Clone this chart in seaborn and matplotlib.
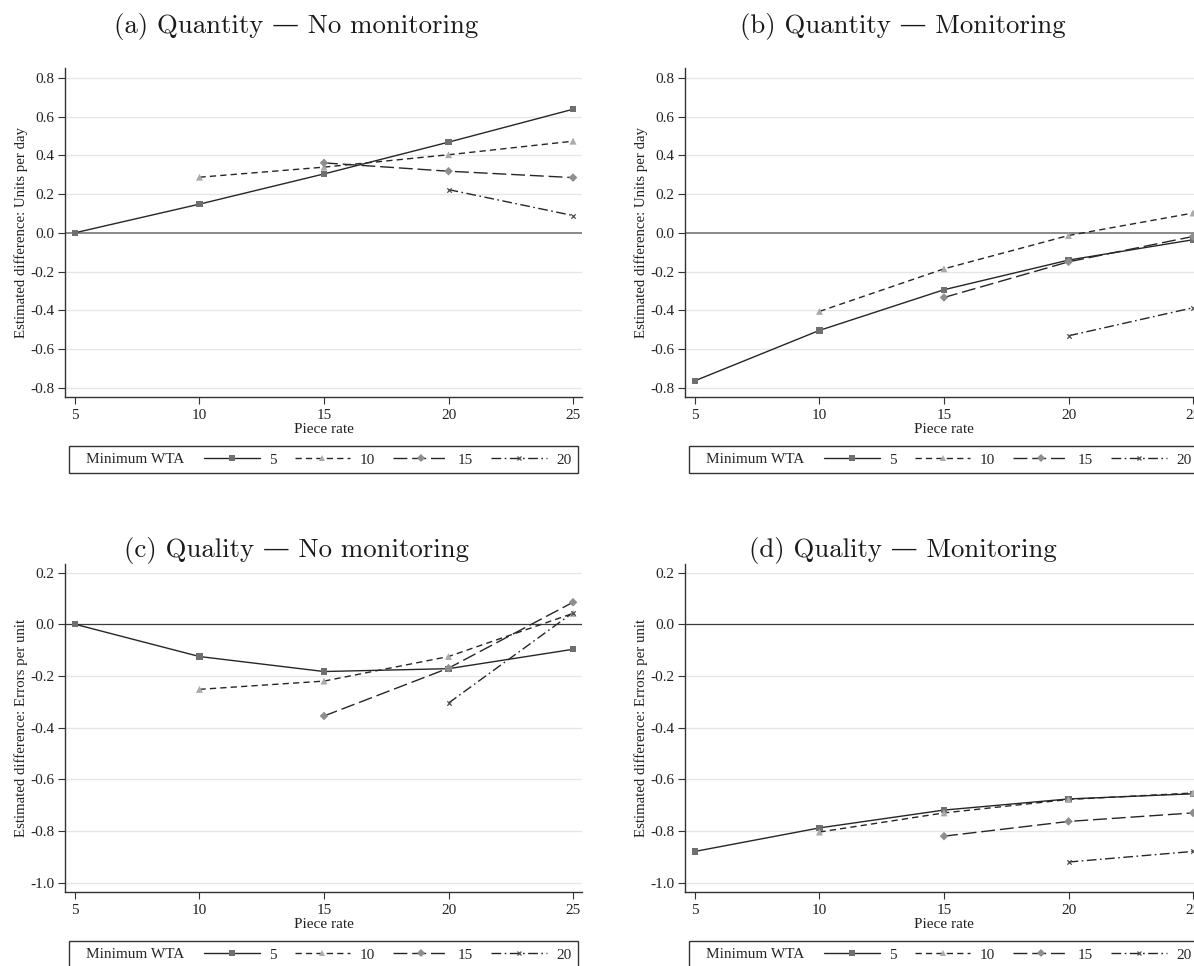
import numpy as np
import pandas as pd
import matplotlib
matplotlib.use("Agg")
import matplotlib.pyplot as plt
import seaborn as sns
from matplotlib.lines import Line2D
from matplotlib.offsetbox import HPacker, DrawingArea

# ---------------- data ----------------
piece_rate = [5, 10, 15, 20, 25]
wta_levels = [5, 10, 15, 20]

# (a) Quantity - No monitoring
qty_nomon_wta5 = [0.0, 0.148, 0.304, 0.468, 0.638]
qty_nomon_wta10 = [0.287, 0.339, 0.403, 0.473]
qty_nomon_wta15 = [0.361, 0.318, 0.285]
qty_nomon_wta20 = [0.223, 0.089]

# (b) Quantity - Monitoring
qty_mon_wta5 = [-0.764, -0.504, -0.294, -0.141, -0.036]
qty_mon_wta10 = [-0.406, -0.186, -0.014, 0.102]
qty_mon_wta15 = [-0.334, -0.150, -0.019]
qty_mon_wta20 = [-0.532, -0.387]

# (c) Quality - No monitoring
qual_nomon_wta5 = [0.0, -0.125, -0.183, -0.172, -0.097]
qual_nomon_wta10 = [-0.252, -0.220, -0.125, 0.042]
qual_nomon_wta15 = [-0.355, -0.170, 0.085]
qual_nomon_wta20 = [-0.305, 0.045]

# (d) Quality - Monitoring
qual_mon_wta5 = [-0.879, -0.788, -0.719, -0.676, -0.656]
qual_mon_wta10 = [-0.804, -0.730, -0.678, -0.653]
qual_mon_wta15 = [-0.820, -0.763, -0.730]
qual_mon_wta20 = [-0.920, -0.879]

titles = ["(a) Quantity \u2014 No monitoring", "(b) Quantity \u2014 Monitoring",
          "(c) Quality \u2014 No monitoring", "(d) Quality \u2014 Monitoring"]
ylabels = ["Estimated difference: Units per day", "Estimated difference: Units per day",
           "Estimated difference: Errors per unit", "Estimated difference: Errors per unit"]
xlabel = "Piece rate"
legend_title = "Minimum WTA"
yticks_top = [-0.8, -0.6, -0.4, -0.2, 0.0, 0.2, 0.4, 0.6, 0.8]
yticks_bottom = [-1.0, -0.8, -0.6, -0.4, -0.2, 0.0, 0.2]
xticks = [5, 10, 15, 20, 25]

panels = [
    [qty_nomon_wta5, qty_nomon_wta10, qty_nomon_wta15, qty_nomon_wta20],
    [qty_mon_wta5, qty_mon_wta10, qty_mon_wta15, qty_mon_wta20],
    [qual_nomon_wta5, qual_nomon_wta10, qual_nomon_wta15, qual_nomon_wta20],
    [qual_mon_wta5, qual_mon_wta10, qual_mon_wta15, qual_mon_wta20],
]


def make_df(series):
    rows = []
    for w, vals in zip(wta_levels, series):
        rates = [r for r in piece_rate if r >= w]
        for r, v in zip(rates, vals):
            rows.append({"rate": r, "wta": str(w), "value": v})
    return pd.DataFrame(rows)


# ---------------- styling ----------------
sns.set_theme(style="white")
plt.rcParams["font.family"] = ["Liberation Serif", "DejaVu Serif"]
plt.rcParams["axes.unicode_minus"] = False

FS = 11
LINE = "#262626"
line_pal = {str(w): LINE for w in wta_levels}
marker_pal = {"5": "#6f6f6f", "10": "#aaaaaa", "15": "#8e8e8e", "20": "#505050"}
markers = {"5": "s", "10": "^", "15": "D", "20": "x"}
marker_sizes = {"5": 4.5, "10": 5.0, "15": 4.4, "20": 3.2}
dashes = {"5": "", "10": (4.5, 3.0), "15": (10, 3.5), "20": (7, 2.5, 1.2, 2.5)}

W, H = 1194, 966
fig = plt.figure(figsize=(W / 100, H / 100), dpi=100)


def rect(l, t, r, b):
    return [l / W, 1 - b / H, (r - l) / W, (b - t) / H]


rects = [rect(65, 68, 582, 397), rect(685, 68, 1202, 397),
         rect(65, 564, 582, 892), rect(685, 564, 1202, 892)]
ylims = [(-0.848, 0.851), (-0.848, 0.851), (-1.036, 0.233), (-1.036, 0.233)]
title_pos = [(296, 27), (903, 27), (296, 551), (903, 551)]


def title_left(leg, sep_pt, lead_pt):
    old = leg._legend_box
    title_box, handle_box = old.get_children()
    lead = HPacker(pad=0, sep=0, align="center",
                   children=[DrawingArea(lead_pt, 1), title_box])
    new = HPacker(pad=old.pad, sep=sep_pt, align="center",
                  children=[lead, handle_box])
    new.set_figure(leg.figure)
    new.axes = leg.axes
    new.set_offset(leg._findoffset)
    leg._legend_box = new


for i in range(4):
    ax = fig.add_axes(rects[i])
    df = make_df(panels[i])
    top = i < 2
    ax.set_xlim(4.6, 25.36)
    ax.set_ylim(*ylims[i])
    yt = yticks_top if top else yticks_bottom
    ax.set_yticks(yt)
    ax.set_yticklabels([f"{v:.1f}" for v in yt])
    ax.set_xticks(xticks)
    ax.set_xticklabels([str(v) for v in xticks])
    for v in yt:
        if abs(v) > 1e-9:
            ax.axhline(v, color="#e6e6e6", lw=1.0, zorder=0)
    if top:
        ax.axhline(0, color="#8a8a8a", lw=1.4, zorder=1)
    else:
        ax.axhline(0, color="#3a3a3a", lw=0.9, zorder=1)

    sns.lineplot(data=df, x="rate", y="value", hue="wta", style="wta",
                 palette=line_pal, dashes=dashes, markers=False, legend=False,
                 lw=1.0, ax=ax, zorder=2)
    for w in wta_levels:
        sub = df[df["wta"] == str(w)]
        sns.scatterplot(data=sub, x="rate", y="value", color=marker_pal[str(w)],
                        marker=markers[str(w)], s=(marker_sizes[str(w)] ** 2),
                        linewidth=(0.9 if str(w) == "20" else 0),
                        edgecolor=(marker_pal[str(w)] if str(w) == "20" else "none"),
                        legend=False, ax=ax, zorder=3)

    for s in ["top", "right"]:
        ax.spines[s].set_visible(False)
    for s in ["left", "bottom"]:
        ax.spines[s].set_color("#333333")
        ax.spines[s].set_linewidth(1.0)
    ax.tick_params(bottom=True, left=True, direction="out", length=5, width=0.8,
                   color="#333333", labelsize=FS, labelcolor="#222222", pad=2.5)
    ax.tick_params(axis="x", pad=3.5)
    ax.set_xlabel(xlabel, fontsize=FS, color="#222222")
    ax.set_ylabel(ylabels[i], fontsize=10.7, color="#222222")
    ax.xaxis.set_label_coords(0.5, -0.078)
    ax.yaxis.set_label_coords(-0.072, 0.5)

    handles = []
    labels = []
    for w in wta_levels:
        k = str(w)
        ls = "-" if dashes[k] == "" else (0, dashes[k])
        handles.append(Line2D([0], [0], color=LINE, lw=1.0, linestyle=ls,
                              marker=markers[k], markersize=marker_sizes[k],
                              markerfacecolor=marker_pal[k], markeredgecolor=marker_pal[k],
                              markeredgewidth=(0.9 if k == "20" else 0)))
        labels.append(k)
    leg_y = (397 - 446) / 329 if top else (892 - 941) / 328
    leg = ax.legend(handles, labels, title=legend_title, ncol=4, loc="upper center",
                    bbox_to_anchor=(0.5, leg_y), frameon=True, fancybox=False,
                    edgecolor="#333333", framealpha=1, fontsize=FS,
                    title_fontsize=FS, handlelength=3.66, handletextpad=0.59,
                    columnspacing=1.19, borderpad=0.45, borderaxespad=0, numpoints=1)
    leg.get_frame().set_linewidth(1.0)
    title_left(leg, 14.4, 7.2)

    tx, ty = title_pos[i]
    fig.text(tx / W, 1 - ty / H, titles[i], ha="center", va="center",
             fontsize=19.3, family=["cmr10", "DejaVu Serif"], color="#1a1a1a")

fig.savefig("out.png", dpi=100)
